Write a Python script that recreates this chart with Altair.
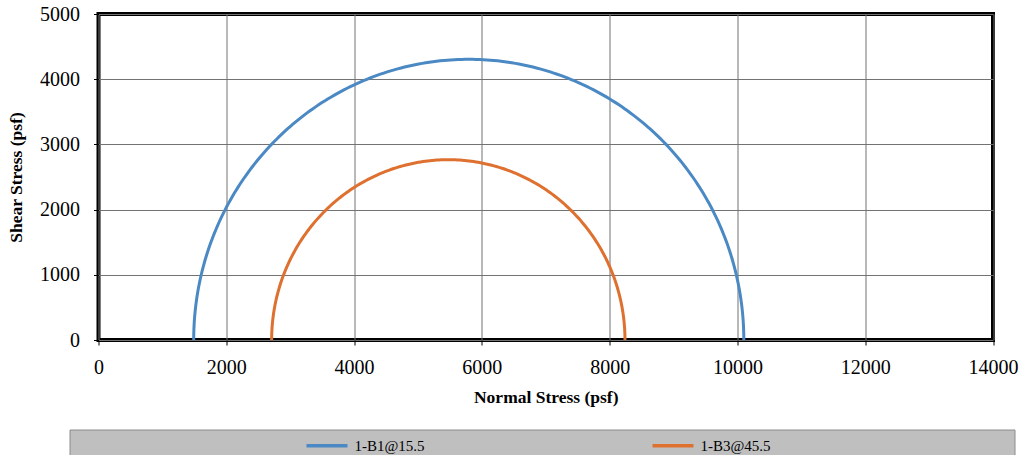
import altair as alt
import numpy as np
import pandas as pd

# Mohr circles: minor and major principal stresses (psf)
specimens = ["1-B1@15.5", "1-B3@45.5"]
sigma3 = [1490, 2710]
sigma1 = [10100, 8240]
colors = ["#4A89C4", "#DE7030"]

x_ticks = [0, 2000, 4000, 6000, 8000, 10000, 12000, 14000]
y_ticks = [0, 1000, 2000, 3000, 4000, 5000]

rows = []
angles = np.linspace(0, np.pi, 241)
for name, s3, s1 in zip(specimens, sigma3, sigma1):
    c = (s1 + s3) / 2.0
    r = (s1 - s3) / 2.0
    for i, a in enumerate(angles):
        rows.append({"Specimen": name, "order": i,
                     "normal": c - r * np.cos(a), "shear": r * np.sin(a)})
df = pd.DataFrame(rows)

W, H = 894.5, 326
PL, PT = 98.5, 14
FONT = "'Liberation Serif', 'Times New Roman', 'DejaVu Serif', serif"

lines = alt.Chart(df).mark_line(strokeWidth=3, clip=True).encode(
    x=alt.X("normal:Q", scale=alt.Scale(domain=[0, 14000], nice=False),
            axis=alt.Axis(values=x_ticks, title="Normal Stress (psf)", format="d",
                          grid=True, gridColor="#737373", gridWidth=1,
                          domain=False, ticks=True, tickColor="#000000", tickSize=5,
                          labelFlush=False, labelOverlap=False,
                          labelFont=FONT, labelFontSize=20, labelColor="#000000",
                          labelPadding=12, titleFont=FONT, titleFontSize=17.5,
                          titleFontWeight="bold", titleColor="#000000", titlePadding=11)),
    y=alt.Y("shear:Q", scale=alt.Scale(domain=[0, 5000], nice=False),
            axis=alt.Axis(values=y_ticks, title="Shear Stress (psf)", format="d",
                          grid=True, gridColor="#737373", gridWidth=1,
                          domain=False, ticks=True, tickColor="#000000", tickSize=5,
                          labelFlush=False, labelOverlap=False,
                          labelFont=FONT, labelFontSize=20, labelColor="#000000",
                          labelPadding=14, titleFont=FONT, titleFontSize=17.5,
                          titleFontWeight="bold", titleColor="#000000", titlePadding=14)),
    color=alt.Color("Specimen:N",
                    scale=alt.Scale(domain=specimens, range=colors),
                    legend=alt.Legend(orient="none", legendX=206, legendY=409,
                                      direction="horizontal", title=None,
                                      symbolType="stroke", symbolSize=1681,
                                      symbolStrokeWidth=3.5, labelFont=FONT,
                                      labelFontSize=15, labelColor="#000000",
                                      labelOffset=5, columnPadding=220, padding=0)),
    order="order:Q",
)

legend_bg = alt.Chart(pd.DataFrame({"a": [0]})).mark_rect(
    fill="#bfbfbf", stroke="#8c8c8c", strokeWidth=1, clip=False
).encode(
    x=alt.value(70 - PL), x2=alt.value(1015 - PL),
    y=alt.value(430 - PT), y2=alt.value(456 - PT),
)

chart = alt.layer(legend_bg, lines).properties(
    width=W, height=H,
    autosize=alt.AutoSizeParams(type="none"),
    padding={"left": PL, "top": PT, "right": 1023 - PL - W, "bottom": 455 - PT - H},
    background="#ffffff",
).configure_view(stroke="#000000", strokeWidth=4)

chart.save("out.html", embed_options={"renderer": "svg", "actions": False})
